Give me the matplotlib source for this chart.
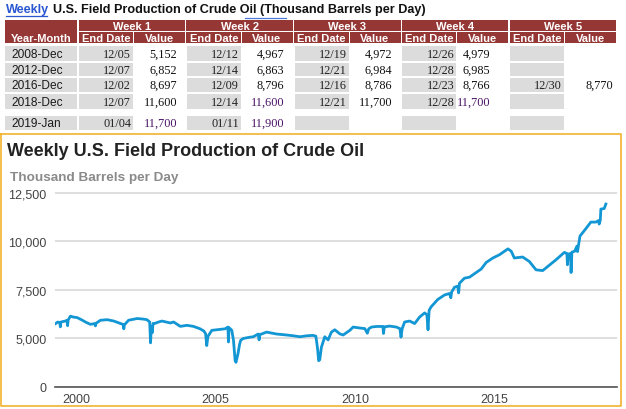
import matplotlib
matplotlib.use('Agg')
import matplotlib.pyplot as plt
from matplotlib.patches import Rectangle

plt.rcParams['font.family'] = ['Liberation Sans', 'DejaVu Sans']

# ---- table data (thousand barrels per day) ----
months = ['2008-Dec', '2012-Dec', '2016-Dec', '2018-Dec', '2019-Jan']
weeks = ['Week 1', 'Week 2', 'Week 3', 'Week 4', 'Week 5']
end_dates = [
    ['12/05', '12/12', '12/19', '12/26', ''],
    ['12/07', '12/14', '12/21', '12/28', ''],
    ['12/02', '12/09', '12/16', '12/23', '12/30'],
    ['12/07', '12/14', '12/21', '12/28', ''],
    ['01/04', '01/11', '', '', ''],
]
week_values = [
    ['5,152', '4,967', '4,972', '4,979', ''],
    ['6,852', '6,863', '6,984', '6,985', ''],
    ['8,697', '8,796', '8,786', '8,766', '8,770'],
    ['11,600', '11,600', '11,700', '11,700', ''],
    ['11,700', '11,900', '', '', ''],
]

# ---- weekly series ----
prod_year = [
    1999.25, 1999.33, 1999.40, 1999.42, 1999.44, 1999.60, 1999.66, 1999.68, 1999.70, 1999.78,
    1999.90, 2000.02, 2000.20, 2000.32, 2000.50, 2000.66, 2000.68, 2000.70, 2000.86, 2001.10,
    2001.34, 2001.58, 2001.68, 2001.70, 2001.72, 2001.87, 2002.18, 2002.40, 2002.53, 2002.63,
    2002.66, 2002.69, 2002.72, 2002.75, 2002.80, 2002.95, 2003.07, 2003.37, 2003.49, 2003.73,
    2003.97, 2004.20, 2004.44, 2004.58, 2004.64, 2004.68, 2004.72, 2004.86, 2005.04, 2005.34,
    2005.44, 2005.46, 2005.48, 2005.58, 2005.64, 2005.70, 2005.73, 2005.80, 2005.86, 2005.90,
    2005.99, 2006.20, 2006.35, 2006.53, 2006.56, 2006.59, 2006.83, 2007.01, 2007.19, 2007.55,
    2007.79, 2008.03, 2008.27, 2008.50, 2008.60, 2008.66, 2008.70, 2008.74, 2008.80, 2008.92,
    2009.04, 2009.16, 2009.28, 2009.46, 2009.58, 2009.82, 2009.94, 2010.18, 2010.36, 2010.45,
    2010.50, 2010.60, 2010.78, 2011.01, 2011.03, 2011.06, 2011.25, 2011.49, 2011.62, 2011.66,
    2011.70, 2011.79, 2011.97, 2012.15, 2012.33, 2012.51, 2012.59, 2012.63, 2012.67, 2012.74,
    2012.98, 2013.22, 2013.40, 2013.45, 2013.48, 2013.58, 2013.70, 2013.73, 2013.76, 2013.94,
    2014.12, 2014.36, 2014.54, 2014.72, 2014.96, 2015.20, 2015.32, 2015.50, 2015.62, 2015.73,
    2016.03, 2016.27, 2016.51, 2016.75, 2016.93, 2017.23, 2017.53, 2017.62, 2017.64, 2017.67,
    2017.75, 2017.77, 2017.80, 2017.90, 2017.98, 2018.00, 2018.03, 2018.09, 2018.30, 2018.48,
    2018.66, 2018.76, 2018.78, 2018.82, 2018.84, 2018.96, 2019.02,
]
prod_kbd = [
    5770, 5850, 5800, 5600, 5850, 5900, 5940, 5660, 5950, 6150,
    6100, 6080, 5950, 5850, 5730, 5770, 5650, 5780, 5940, 5970,
    5900, 5770, 5720, 5500, 5700, 5940, 6030, 6000, 5970, 5850,
    4775, 5600, 5300, 5780, 5770, 5850, 5900, 5800, 5850, 5625,
    5680, 5625, 5500, 5380, 5240, 4635, 5100, 5420, 5450, 5500,
    5590, 4820, 5560, 5420, 4910, 3850, 3770, 4200, 4700, 4910,
    5000, 5060, 5090, 5230, 4930, 5200, 5330, 5280, 5230, 5180,
    5140, 5090, 5140, 5160, 5120, 4500, 3855, 3900, 4550, 5090,
    4930, 5330, 5450, 5240, 5180, 5420, 5590, 5540, 5510, 5270,
    5500, 5590, 5620, 5620, 5260, 5600, 5640, 5590, 5510, 5070,
    5500, 5850, 5900, 5770, 6110, 6320, 6220, 5450, 6450, 6630,
    7010, 7240, 7320, 7100, 7400, 7640, 7700, 7350, 7850, 8110,
    8160, 8400, 8580, 8920, 9150, 9320, 9440, 9620, 9500, 9150,
    9200, 8970, 8540, 8500, 8710, 9060, 9440, 9380, 8800, 9350,
    9380, 8400, 9450, 9500, 9760, 9480, 9750, 10280, 10660, 11000,
    11000, 11080, 10900, 11100, 11670, 11700, 11930,
]

y_ticks = [2500, 5000, 7500, 10000, 12500]
y_tick_labels = ['0', '5,000', '7,500', '10,000', '12,500']
x_ticks = [2000, 2005, 2010, 2015]

RED = '#953735'
GRAY = '#DCDCDC'
LINK = '#2B57D1'
PURPLE = '#4A1466'
visited = {(3, 1), (3, 3), (4, 0), (4, 1)}

fig = plt.figure(figsize=(6.26, 4.10), dpi=100)
ov = fig.add_axes([0, 0, 1, 1])
ov.set_xlim(0, 626)
ov.set_ylim(410, 0)
ov.axis('off')

# page title above the table
ov.text(6, 10, 'Weekly', color=LINK, fontsize=9.1, fontweight='bold', va='center')
ov.plot([6, 47], [16.5, 16.5], color=LINK, lw=0.9)
ov.text(53, 10, 'U.S. Field Production of Crude Oil (Thousand Barrels per Day)',
        color='#111111', fontsize=9.1, fontweight='bold', va='center')
ov.plot([245, 286], [19.2, 19.2], color='#4A7BD8', lw=0.9)

# header
ov.add_patch(Rectangle((5, 21), 72, 22.5, color=RED, lw=0))
ov.text(41, 38.5, 'Year-Month', color='white', fontsize=8, fontweight='bold',
        ha='center', va='center')
for k, wk in enumerate(weeks):
    ws = 78 + k * 107.75
    ov.add_patch(Rectangle((ws + 0.5, 21), 106.5, 11, color=RED, lw=0))
    ov.add_patch(Rectangle((ws + 0.5, 33), 54.5, 10.5, color=RED, lw=0))
    ov.add_patch(Rectangle((ws + 56, 33), 51, 10.5, color=RED, lw=0))
    ov.text(ws + 54, 26.7, wk, color='white', fontsize=8, fontweight='bold',
            ha='center', va='center')
    ov.text(ws + 28, 38.5, 'End Date', color='white', fontsize=8, fontweight='bold',
            ha='center', va='center')
    ov.text(ws + 81, 38.5, 'Value', color='white', fontsize=8, fontweight='bold',
            ha='center', va='center')

# body rows
row_top = [47, 64, 79, 95, 117]
row_bot = [62, 77, 93, 110, 131]
val_right = [177, 284, 392, 490, 613]
for i, m in enumerate(months):
    t, b = row_top[i], row_bot[i]
    yc = (t + b) / 2
    ov.add_patch(Rectangle((5, t), 72, b - t, color=GRAY, lw=0))
    ov.text(11, yc, m, color='#1a1a1a', fontsize=8.6, ha='left', va='center')
    for k in range(len(weeks)):
        ws = 78 + k * 107.75
        ov.add_patch(Rectangle((ws + 1, t), 54, b - t, color=GRAY, lw=0))
        if end_dates[i][k]:
            ov.text(ws + 53, yc, end_dates[i][k], family='Liberation Serif',
                    color='#222222', fontsize=8.8, ha='right', va='center')
        if week_values[i][k]:
            c = PURPLE if (i, k) in visited else '#111111'
            ov.text(val_right[k], yc, week_values[i][k], family='Liberation Serif',
                    color=c, fontsize=8.8, ha='right', va='center')

# chart frame and headings
YEL = '#F2B32E'
ov.plot([0.5, 621, 621, 0.5, 0.5], [135, 135, 407, 407, 135], color=YEL, lw=1.2)
ov.text(7, 152, 'Weekly U.S. Field Production of Crude Oil', color='#222222',
        fontsize=13, fontweight='bold', va='center')
ov.text(10, 178, 'Thousand Barrels per Day', color='#8a8a8a',
        fontsize=9.7, fontweight='bold', va='center')

# line chart
ax = fig.add_axes([55 / 626, 22 / 410, 562 / 626, 198 / 410])
ax.patch.set_alpha(0)
ax.plot(prod_year, prod_kbd, color='#1296D4', lw=2.0)
ax.set_xlim(1999.2275, 2019.42)
ax.set_ylim(2500, 12706)
ax.set_yticks(y_ticks)
ax.set_yticklabels(y_tick_labels)
ax.set_xticks(x_ticks)
ax.set_xticklabels([str(x) for x in x_ticks])
ax.grid(axis='y', color='#D6D6D6', lw=1.1)
ax.set_axisbelow(True)
for s in ['top', 'right', 'left']:
    ax.spines[s].set_visible(False)
ax.spines['bottom'].set_color('#555555')
ax.spines['bottom'].set_linewidth(1.2)
ax.tick_params(axis='y', length=0, pad=6, labelsize=9, labelcolor='#444444')
ax.tick_params(axis='x', length=0, pad=4, labelsize=9, labelcolor='#444444')

fig.savefig('out.png', dpi=100)
